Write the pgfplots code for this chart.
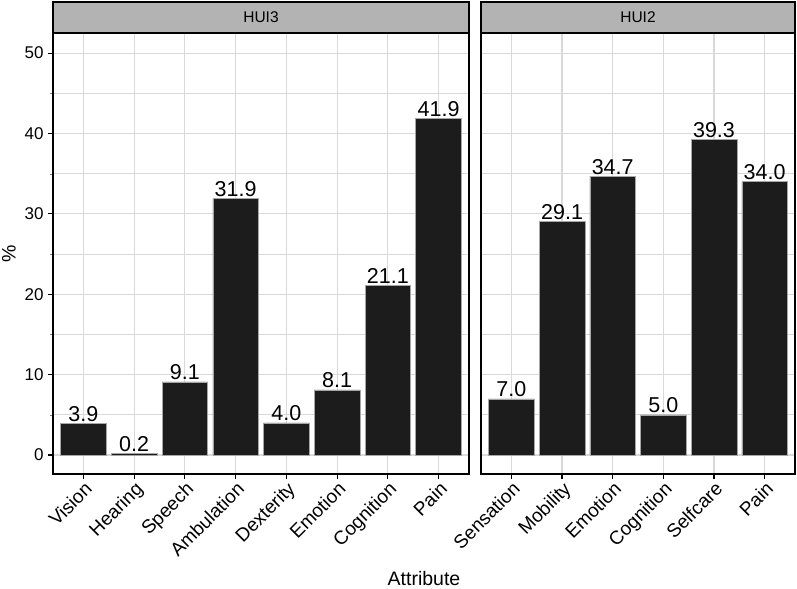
\documentclass[border=0pt]{standalone}
\usepackage{fontspec}
\setmainfont{Liberation Sans}
\usepackage{pgfplots}
\pgfplotsset{compat=1.18}
\definecolor{gridc}{RGB}{217,217,217}
\definecolor{barc}{RGB}{28,28,28}
\definecolor{stripc}{RGB}{179,179,179}
\tikzset{
  gmaj/.style={draw=gridc, line width=1.1bp},
  gmin/.style={draw=gridc, line width=0.7bp},
}
\pgfplotsset{
  facet/.style={
    scale only axis, height=441bp, anchor=south west,
    ymin=-2.36, ymax=52.5, clip=false,
    ybar, bar width=0.9,
    axis line style={line width=1.1bp, black},
    ytick={0,10,...,50},
    major grid style={draw=gridc, line width=1.1bp},
    minor grid style={draw=gridc, line width=0.7bp},
    tick align=outside, major tick length=5bp,
    major tick style={black, line width=1.1bp},
    xtick pos=left, ytick pos=left,
    /pgf/number format/assume math mode=true,
    tick label style={font=\fontsize{17bp}{19bp}\selectfont},
    xticklabel style={rotate=45, anchor=north east, inner sep=1bp, font=\fontsize{19bp}{21bp}\selectfont},
    nodes near coords={\pgfmathprintnumber[fixed,zerofill,precision=1]{\pgfplotspointmeta}},
    every node near coord/.append style={font=\fontsize{21.5bp}{23bp}\selectfont, inner sep=1.5bp, anchor=south, black},
  },
  barsty/.style={fill=barc, draw=white!65!black, line width=0.5bp},
}
\begin{document}
\begin{tikzpicture}
\useasboundingbox (0,0) rectangle (797bp,589bp);
% background grid of the right (HUI2) panel, drawn first
\begin{scope}[x=1bp,y=1bp]
\foreach \v in {0,10,20,30,40,50} {\draw[gmaj] (481,{115+(\v+2.36)*8.03864}) -- (795,{115+(\v+2.36)*8.03864});}
\foreach \v in {5,15,25,35,45} {\draw[gmin] (481,{115+(\v+2.36)*8.03864}) -- (795,{115+(\v+2.36)*8.03864});}
\foreach \c in {1,2,3,4,5,6} {\draw[gmaj] ({481+(\c-0.4)*50.6452},115) -- ({481+(\c-0.4)*50.6452},556);}
\end{scope}
\begin{axis}[facet, at={(53bp,115bp)}, width=416bp,
  xmajorgrids, ymajorgrids, yminorgrids, minor ytick={5,15,...,45},
  xmin=0.4, xmax=8.6, xtick={1,...,8},
  xticklabels={Vision,Hearing,Speech,Ambulation,Dexterity,Emotion,Cognition,Pain},
  yticklabel style={xshift=-1bp}]
\addplot[barsty] coordinates {(1,3.9) (2,0.2) (3,9.1) (4,31.9) (5,4.0) (6,8.1) (7,21.1) (8,41.9)};
\draw[fill=stripc, line width=1.1bp] (rel axis cs:0,1) rectangle (rel axis cs:1,1.0703);
\node[font=\fontsize{15.5bp}{17bp}\selectfont] at (rel axis cs:0.5,1.0352) {HUI3};
\end{axis}
\begin{axis}[facet, at={(481bp,115bp)}, width=314bp,
  xmin=0.4, xmax=6.6, xtick={1,...,6},
  xticklabels={Sensation,Mobility,Emotion,Cognition,Selfcare,Pain},
  yticklabel=\empty]
\addplot[barsty] coordinates {(1,7.0) (2,29.1) (3,34.7) (4,5.0) (5,39.3) (6,34.0)};
\draw[fill=stripc, line width=1.1bp] (rel axis cs:0,1) rectangle (rel axis cs:1,1.0703);
\node[font=\fontsize{15.5bp}{17bp}\selectfont] at (rel axis cs:0.5,1.0352) {HUI2};
\end{axis}
\fill[white] (470.8bp,110bp) rectangle (480.3bp,560bp);
\node[font=\fontsize{19.5bp}{21bp}\selectfont, anchor=base] at (424bp,3.5bp) {Attribute};
\node[font=\fontsize{19.5bp}{21bp}\selectfont, rotate=90] at (9bp,335bp) {\%};
\end{tikzpicture}
\end{document}
